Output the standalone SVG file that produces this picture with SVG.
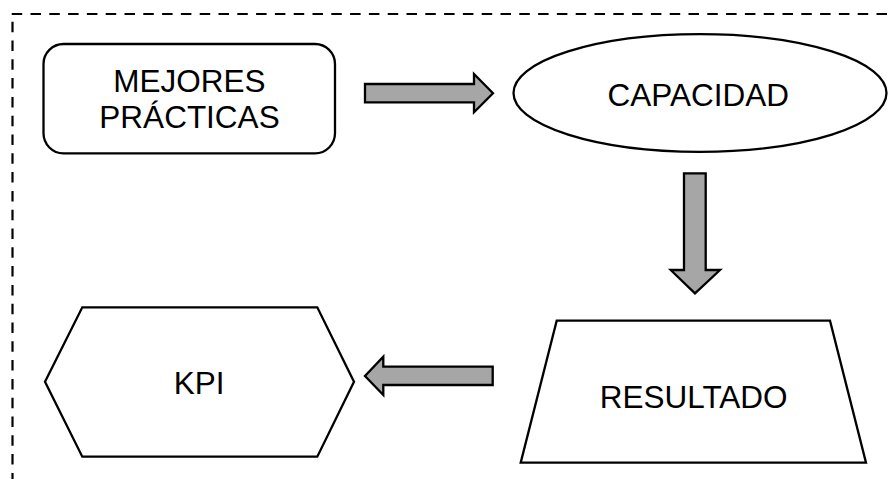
<svg xmlns="http://www.w3.org/2000/svg" width="892" height="479" viewBox="0 0 892 479">
  <style>
    .shape { fill: #ffffff; stroke: #000000; stroke-width: 2.3; stroke-linejoin: miter; }
    .arrow { fill: #a6a6a6; stroke: #000000; stroke-width: 2.3; stroke-linejoin: miter; }
    .frame { fill: none; stroke: #000000; stroke-width: 2.2; stroke-dasharray: 10.5 8.3; }
    .label { font-family: "Liberation Sans", Arial, sans-serif; font-size: 31.5px; fill: #000000; text-anchor: middle; }
  </style>
  <rect width="892" height="479" fill="#ffffff"/>

  <!-- dashed frame, open to the right and bottom -->
  <g id="frame">
    <line class="frame" x1="11.7" y1="14" x2="892" y2="14"/>
    <line class="frame" x1="12.5" y1="21.7" x2="12.5" y2="479"/>
  </g>

  <g id="connectors">
    <polygon class="arrow" points="365,84 474,84 474,74 493,93.3 474,112.3 474,102.3 365,102.3"/>
    <polygon class="arrow" points="684,173.3 705.7,173.3 705.7,270 720,270 695,293.3 670.7,270 684,270"/>
    <polygon class="arrow" points="492.7,366.7 383.3,366.7 383.3,356.7 365,376 383.3,395 383.3,385 492.7,385"/>
  </g>

  <g id="mejores-practicas">
    <rect class="shape" x="43.5" y="44" width="291.5" height="109.3" rx="20" ry="20"/>
    <text class="label" x="189.5" y="92">MEJORES</text>
    <text class="label" x="189.5" y="128">PRÁCTICAS</text>
  </g>

  <g id="capacidad">
    <ellipse class="shape" cx="700" cy="93" rx="186.5" ry="58.8"/>
    <text class="label" x="698.3" y="106">CAPACIDAD</text>
  </g>

  <g id="resultado">
    <polygon class="shape" points="556.7,320.7 830,320.7 866,462.7 520.7,462.7"/>
    <text class="label" x="693.7" y="408.3">RESULTADO</text>
  </g>

  <g id="kpi">
    <polygon class="shape" points="82.3,307.3 317.3,307.3 354,381.7 317.3,456.7 82.3,456.7 45,381.7"/>
    <text class="label" x="199.2" y="394">KPI</text>
  </g>
</svg>
